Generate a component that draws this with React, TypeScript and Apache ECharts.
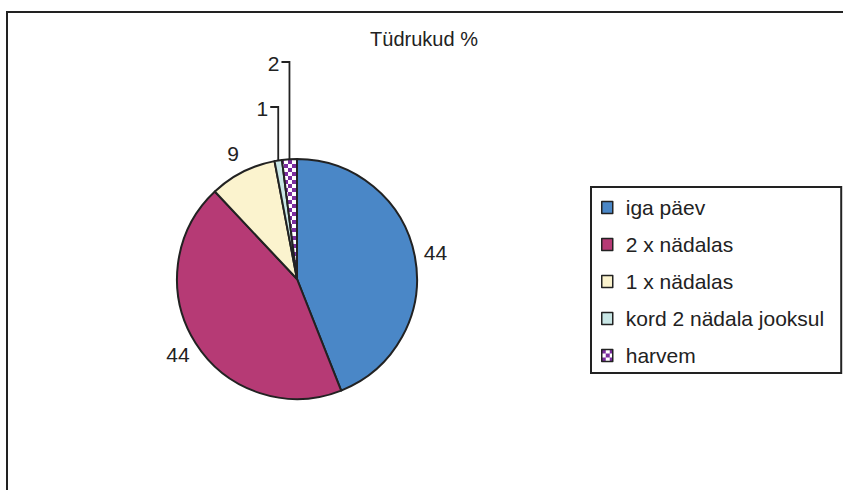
import React, { useEffect, useRef } from "react";
import * as echarts from "echarts";

const titleText = "Tüdrukud %";
const categories = ["iga päev", "2 x nädalas", "1 x nädalas", "kord 2 nädala jooksul", "harvem"];
const values = [44, 44, 9, 1, 2];
const sliceColors = ["#4A87C7", "#B63A75", "#FBF3CE", "#C9E7E6"];

const CX = 297;
const CY = 279;
const R = 120;
const FONT = "'Liberation Sans', Arial, sans-serif";
const INK = "#222222";

function makeChecker(): HTMLCanvasElement {
  const c = document.createElement("canvas");
  c.width = 8;
  c.height = 8;
  const g = c.getContext("2d")!;
  g.fillStyle = "#ffffff";
  g.fillRect(0, 0, 8, 8);
  g.fillStyle = "#7A2C9E";
  g.fillRect(0, 0, 4, 4);
  g.fillRect(4, 4, 4, 4);
  return c;
}

export default function App() {
  const ref = useRef<HTMLDivElement>(null);

  useEffect(() => {
    if (!ref.current) return;
    const chart = echarts.init(ref.current, undefined, { renderer: "svg" });

    const total = values.reduce((a, b) => a + b, 0);
    let acc = 0;
    const mids = values.map((v) => {
      const m = ((acc + v / 2) / total) * Math.PI * 2;
      acc += v;
      return m;
    });

    const pattern = { image: makeChecker(), repeat: "repeat" };
    const colors: any[] = [...sliceColors, pattern];

    const data = categories.map((name, i) => ({
      name,
      value: values[i],
      itemStyle: { color: colors[i] },
      labelLine: { show: i >= 3 },
    }));

    chart.setOption({
      animation: false,
      graphic: [
        {
          type: "rect",
          z: -10,
          shape: { x: 7, y: 12, width: 1000, height: 1000 },
          style: { fill: "transparent", stroke: INK, lineWidth: 2 },
        },
        {
          type: "text",
          x: 424,
          y: 39,
          style: {
            text: titleText,
            fill: INK,
            font: `20px ${FONT}`,
            textAlign: "center",
            textVerticalAlign: "middle",
          },
        },
      ],
      legend: {
        orient: "vertical",
        left: 591,
        top: 187,
        padding: [10, 17, 7, 10],
        itemGap: 16,
        itemWidth: 11,
        itemHeight: 12,
        borderColor: INK,
        borderWidth: 2,
        icon: "rect",
        itemStyle: { borderColor: INK, borderWidth: 1.5 },
        textStyle: { fontSize: 21, fontFamily: FONT, color: INK, padding: [0, 0, 0, 8] },
        data: categories,
      },
      series: [
        {
          type: "pie",
          center: [CX, CY],
          radius: R,
          startAngle: 90,
          clockwise: true,
          avoidLabelOverlap: false,
          itemStyle: { borderColor: INK, borderWidth: 2 },
          label: {
            show: true,
            position: "outside",
            formatter: "{c}",
            fontSize: 21,
            fontFamily: FONT,
            color: INK,
          },
          labelLine: { show: false, lineStyle: { color: INK, width: 1.8 } },
          labelLayout: (p: any) => {
            const i = p.dataIndex;
            const a = mids[i];
            if (i < 3) {
              return {
                x: CX + 141 * Math.sin(a),
                y: CY - 141 * Math.cos(a),
                align: "center",
                verticalAlign: "middle",
              };
            }
            const ex = CX + R * Math.sin(a);
            const ey = CY - R * Math.cos(a);
            const ly = CY - R - (i === 4 ? 97 : 52);
            return {
              x: ex - 10,
              y: ly + 1,
              align: "right",
              verticalAlign: "middle",
              labelLinePoints: [
                [ex, ey],
                [ex, ly],
                [ex - 8, ly],
              ],
            };
          },
          emphasis: { disabled: true },
          data,
        },
      ],
    });

    return () => chart.dispose();
  }, []);

  return (
    <div
      ref={ref}
      style={{ position: "absolute", left: 0, top: 0, width: 843, height: 490, background: "#fff" }}
    />
  );
}
